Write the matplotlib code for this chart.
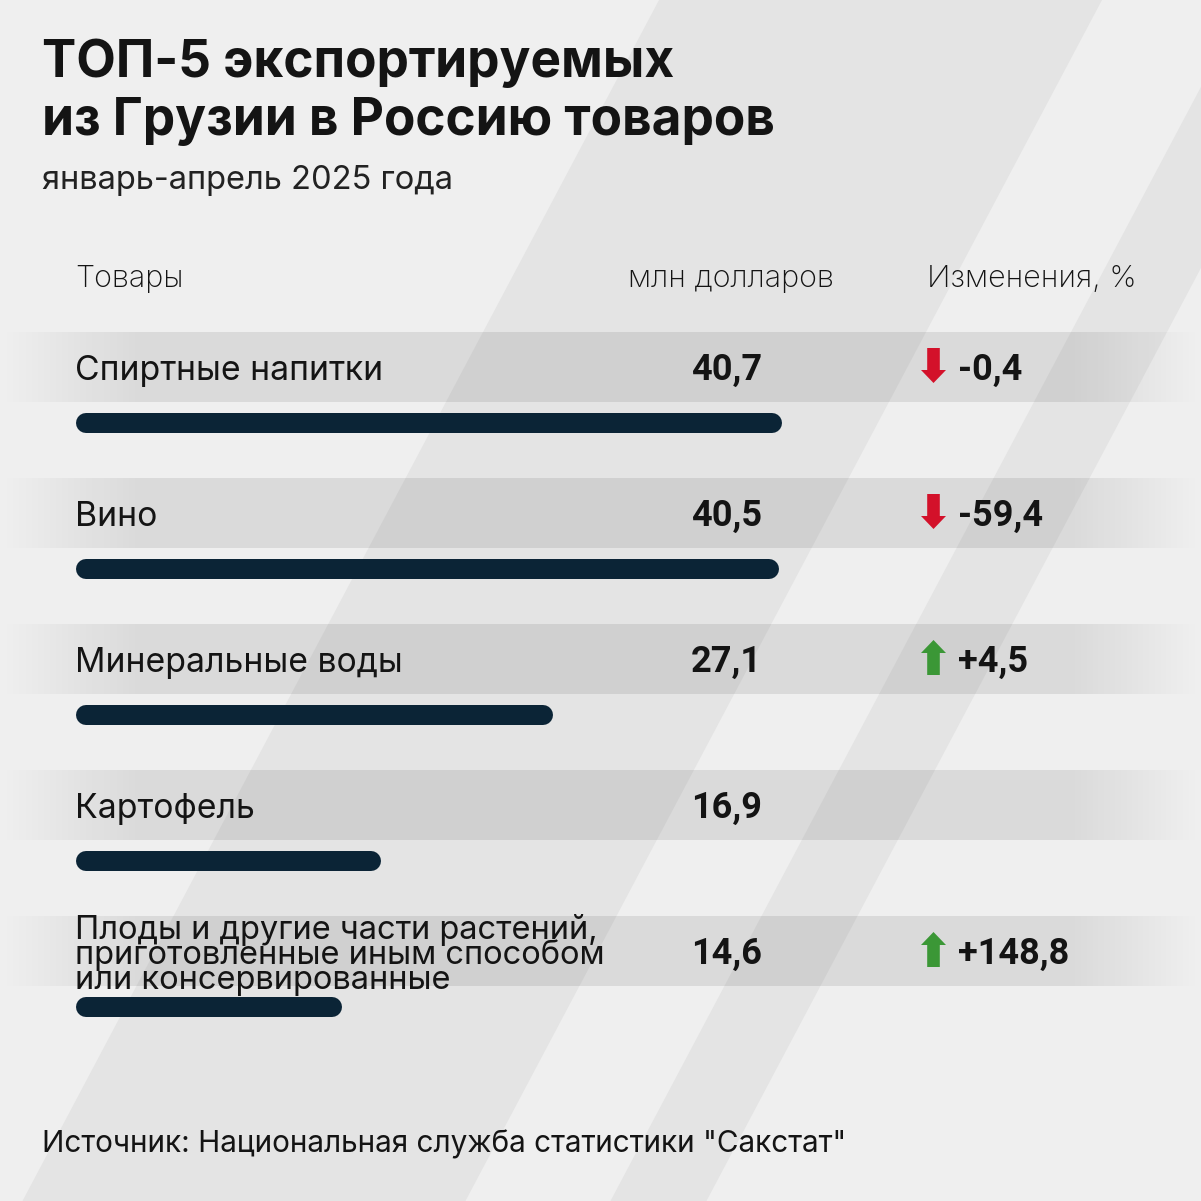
import matplotlib
matplotlib.use('Agg')
import matplotlib.pyplot as plt
from matplotlib.patches import Polygon, FancyArrow
import numpy as np

goods = ['Спиртные напитки', 'Вино', 'Минеральные воды', 'Картофель',
         'Плоды и другие части растений,\nприготовленные иным способом\nили консервированные']
values = [40.7, 40.5, 27.1, 16.9, 14.6]
changes = [-0.4, -59.4, 4.5, None, 148.8]

title = 'ТОП-5 экспортируемых\nиз Грузии в Россию товаров'
subtitle = 'январь-апрель 2025 года'
headers = ['Товары', 'млн долларов', 'Изменения, %']
source = 'Источник: Национальная служба статистики "Сакстат"'

W = 1201
BG = '#efefef'
STRIPE = '#e4e4e4'
BAR = '#0b2436'
TXT = '#141414'
RED = '#d3112a'
GREEN = '#3b9736'

fig = plt.figure(figsize=(12.01, 12.01), dpi=100)
fig.patch.set_facecolor(BG)
bg = fig.add_axes([0, 0, 1, 1])
bg.set_xlim(0, W)
bg.set_ylim(W, 0)
bg.axis('off')

# diagonal background stripes
slope = 0.53
for x0, x1 in [(659, 1102), (1247, 1343)]:
    bg.add_patch(Polygon([(x0, 0), (x1, 0), (x1 - slope * W, W), (x0 - slope * W, W)],
                         closed=True, color=STRIPE, lw=0, zorder=0))

# row bands with faded ends
xs = np.linspace(0, W, 600)
alpha = np.clip(np.minimum(xs / 140, (W - xs) / 130), 0, 1) * 0.09
band = np.zeros((1, len(xs), 4))
band[..., 3] = alpha
row_y = [367 + 146 * i for i in range(len(goods))]
for y in row_y:
    bg.imshow(band, extent=(0, W, y + 35, y - 35), aspect='auto', zorder=1)
bg.set_xlim(0, W)
bg.set_ylim(W, 0)

# titles
bg.text(42, 39, title, fontsize=37, fontweight='bold', family='Inter', color=TXT,
        va='top', ha='left', linespacing=1.22)
bg.text(42, 181, subtitle, fontsize=23.5, family='Inter', color='#222222', va='center')
hdr_x = [75, 628, 927]
for x, h in zip(hdr_x, headers):
    bg.text(x, 279, h, fontsize=22, family='Inter', fontweight='light', color=TXT, va='center')
bg.text(42, 1144, source, fontsize=21.4, family='Inter', color=TXT, va='center')

# rows
for i, (g, v, c) in enumerate(zip(goods, values, changes)):
    y = row_y[i]
    if '\n' in g:
        bg.text(75, y + 4, g, fontsize=23.5, family='Inter', color=TXT, va='center', linespacing=0.72)
    else:
        bg.text(75, y + 4, g, fontsize=24.3, family='Inter', color=TXT, va='center')
    bg.text(691, y + 3, f'{v:.1f}'.replace('.', ','), fontsize=26, fontweight='bold',
            family='Roboto', color=TXT, va='center')
    if c is None:
        continue
    if c < 0:
        bg.add_patch(FancyArrow(933.5, y - 19, 0, 35, width=12.6, head_width=25, head_length=13,
                                length_includes_head=True, color=RED, lw=0, zorder=3))
        lab = f'{c:.1f}'.replace('.', ',')
    else:
        bg.add_patch(FancyArrow(933.5, y + 16, 0, -35, width=12.6, head_width=25, head_length=13,
                                length_includes_head=True, color=GREEN, lw=0, zorder=3))
        lab = f'+{c:.1f}'.replace('.', ',')
    bg.text(958, y + 3, lab, fontsize=26, fontweight='bold', family='Roboto', color=TXT, va='center')

# bars, value axis
x_start = 86
px_per_unit = 686 / 40.7
ax = fig.add_axes([0, 0, 1, 1])
ax.patch.set_alpha(0)
ax.axis('off')
ax.set_xlim(-x_start / px_per_unit, (W - x_start) / px_per_unit)
ax.set_ylim(W, 0)
bar_y = [y + 56 for y in row_y]
ax.hlines(bar_y, 0, values, colors=BAR, lw=14.4, capstyle='round')

fig.savefig('out.png', dpi=100, facecolor=BG)
